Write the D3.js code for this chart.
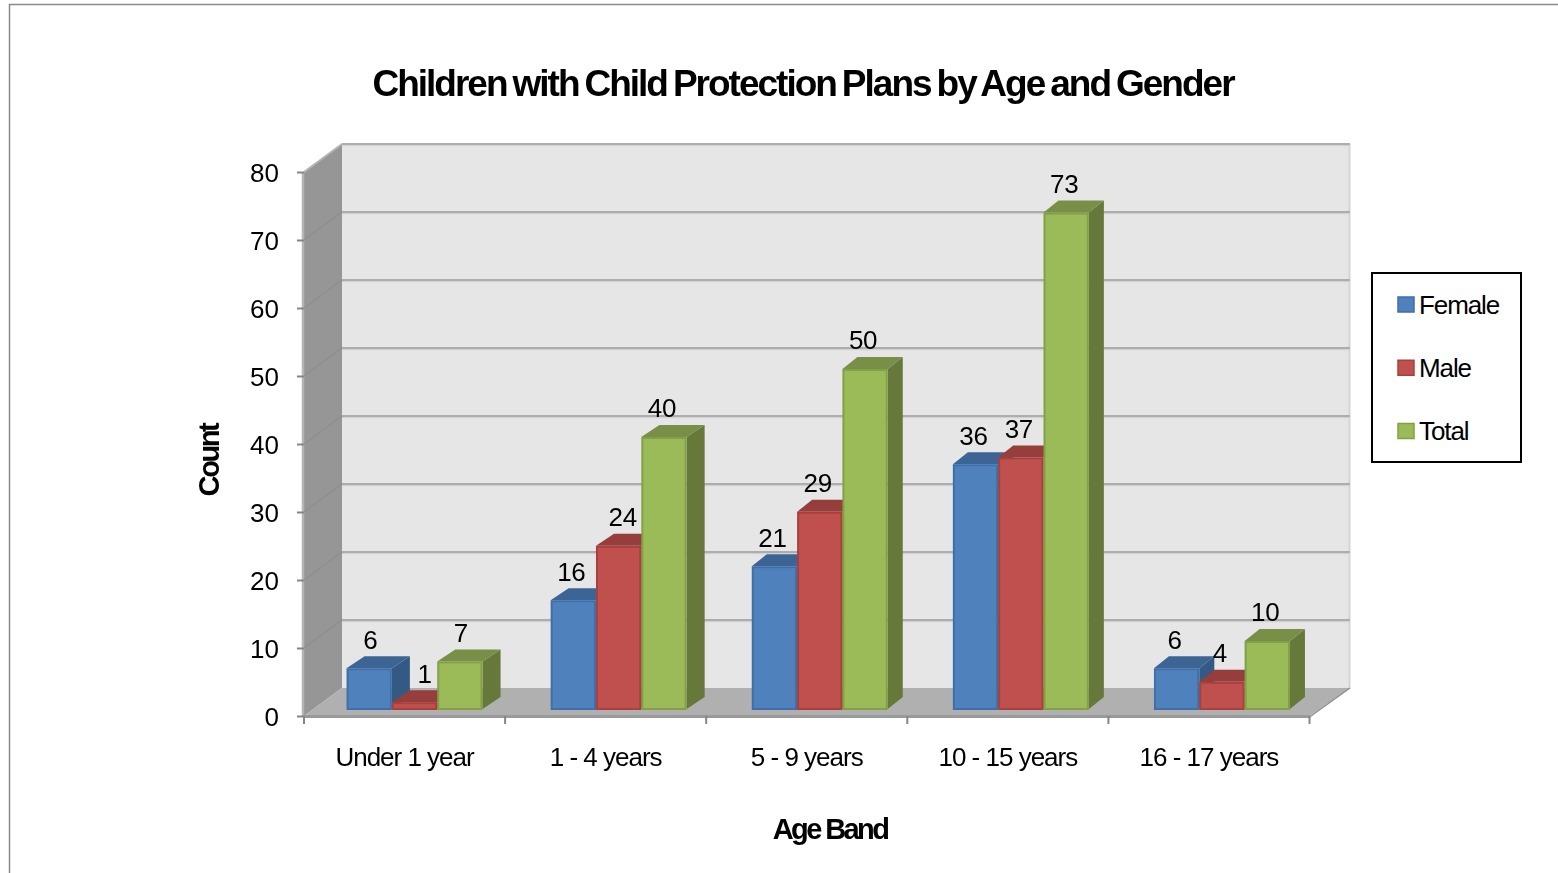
<!DOCTYPE html>
<html><head><meta charset="utf-8">
<script src="https://cdnjs.cloudflare.com/ajax/libs/d3/7.8.5/d3.min.js"></script>
<style>
html,body{margin:0;padding:0;background:#fff;overflow:hidden}
svg{display:block;filter:blur(0.35px)}
text{font-family:"Liberation Sans",Arial,sans-serif;fill:#000}
</style></head><body>
<script>
const categories = ["Under 1 year","1 - 4 years","5 - 9 years","10 - 15 years","16 - 17 years"];
const seriesNames = ["Female","Male","Total"];
const female = [6,16,21,36,6];
const male = [1,24,29,37,4];
const total = [7,40,50,73,10];
const yTicks = [0,10,20,30,40,50,60,70,80];
const titleText = "Children with Child Protection Plans by Age and Gender";
const xTitle = "Age Band";
const yTitle = "Count";

const seriesValues = [female,male,total];
const front = ["#4f81bd","#c0504d","#9bbb59"];
const edge  = ["#3f6fa8","#a8413e","#82a045"];
const topC  = ["#3c6595","#953e3b","#798f47"];
const side  = ["#335a85","#843634","#66783a"];

const W=1558,H=873;
const svg=d3.select("body").append("svg").attr("width",W).attr("height",H);
// frame
svg.append("path").attr("d",`M9.5 ${H}V4.5H${W}`).attr("fill","none").attr("stroke","#8a8a8a").attr("stroke-width",1.5);

const x0=304,x1=1309.5,wallDx=38,wallDy=28,barLift=7;
const y=d3.scaleLinear().domain([0,80]).range([716,172]);
const x=d3.scaleBand().domain(categories).range([x0,x1]);
const xBar=d3.scaleBand().domain(categories).range([x0+13,x1+13]);
const groupW=136;
const xSub=d3.scaleBand().domain(seriesNames).range([0,groupW]);
const depthX=[18,18,15,15,15],depthY=12,groupNudge=[-3,0,0,0,0];

const poly=(pts,fill,stroke)=>svg.append("polygon").attr("points",pts.map(p=>p.join(",")).join(" ")).attr("fill",fill).attr("stroke",stroke||"none");
const backR=1350;
// back wall, side wall, floor
poly([[x0+wallDx,y(80)-wallDy],[backR,y(80)-wallDy],[backR,y(0)-wallDy],[x0+wallDx,y(0)-wallDy]],"#e6e6e6");
poly([[x0,y(80)],[x0+wallDx,y(80)-wallDy],[x0+wallDx,y(0)-wallDy],[x0,y(0)]],"#969696");
poly([[x0,y(0)],[x0+wallDx,y(0)-wallDy],[backR,y(0)-wallDy],[x1,y(0)]],"#b0b0b0");
svg.append("line").attr("x1",x0-1).attr("x2",x0-1).attr("y1",y(80)).attr("y2",y(0)).attr("stroke","#b4b4b4").attr("stroke-width",2.5);
svg.append("line").attr("x1",backR-.5).attr("x2",backR-.5).attr("y1",y(80)-wallDy).attr("y2",y(0)-wallDy).attr("stroke","#d4d4d4").attr("stroke-width",2);
// gridlines
yTicks.forEach(t=>{
  if(t>0){
    svg.append("line").attr("x1",x0+wallDx).attr("x2",backR).attr("y1",y(t)-wallDy+1.5).attr("y2",y(t)-wallDy+1.5).attr("stroke","#d2d2d2").attr("stroke-width",1.5);
    svg.append("line").attr("x1",x0+wallDx).attr("x2",backR).attr("y1",y(t)-wallDy).attr("y2",y(t)-wallDy).attr("stroke","#adadad").attr("stroke-width",2);
  }
  if(t>0&&t<80) svg.append("line").attr("x1",x0).attr("x2",x0+wallDx).attr("y1",y(t)).attr("y2",y(t)-wallDy).attr("stroke","#8a8a8a").attr("stroke-width",1);
});
svg.append("line").attr("x1",x0).attr("x2",x0+wallDx).attr("y1",y(80)).attr("y2",y(80)-wallDy).attr("stroke","#b4b4b4").attr("stroke-width",2);
svg.append("line").attr("x1",x1).attr("x2",backR).attr("y1",y(0)+1).attr("y2",y(0)-wallDy).attr("stroke","#8e8e8e").attr("stroke-width",1.5);
svg.append("line").attr("x1",x0-1).attr("x2",x1+1).attr("y1",y(0)+.5).attr("y2",y(0)+.5).attr("stroke","#9a9a9a").attr("stroke-width",3);

// bars
const labelShift={"1|0":9,"1|1":6};
categories.forEach((c,ci)=>{
  seriesNames.forEach((s,si)=>{
    const v=seriesValues[si][ci];
    const l=xBar(c)+(xBar.bandwidth()-groupW)/2+xSub(s)+groupNudge[ci];
    const r=l+xSub.bandwidth();
    const t=y(v)-barLift,b=y(0)-barLift,dx=depthX[ci],dy=depthY;
    poly([[r,t],[r+dx,t-dy],[r+dx,b-dy],[r,b]],side[si]);
    poly([[l,t],[l+dx,t-dy],[r+dx,t-dy],[r,t]],topC[si]);
    svg.append("rect").attr("x",l+1).attr("y",t+1).attr("width",xSub.bandwidth()-2).attr("height",Math.max(b-t-2,0)+1)
      .attr("fill",front[si]).attr("stroke",edge[si]).attr("stroke-width",2);
  });
});
// value labels
categories.forEach((c,ci)=>{
  seriesNames.forEach((s,si)=>{
    const v=seriesValues[si][ci];
    const l=xBar(c)+(xBar.bandwidth()-groupW)/2+xSub(s);
    const shift=labelShift[si+"|"+ci]||0;
    svg.append("text").attr("x",l+xSub.bandwidth()/2-2+shift).attr("y",y(v)-barLift-29).attr("dy","0.36em")
      .attr("text-anchor","middle").attr("font-size",26).attr("letter-spacing",-0.3).text(v);
  });
});
// axes
const yAxis=d3.axisLeft(y).tickValues(yTicks).tickSize(7).tickPadding(18);
const gy=svg.append("g").attr("transform",`translate(${x0},0)`).call(yAxis);
gy.select(".domain").remove();
gy.selectAll("line").attr("stroke","#868686").attr("stroke-width",2);
gy.selectAll("text").attr("font-size",26).attr("font-family","Liberation Sans").attr("fill","#000").attr("dy","0.36em");

const xAxis=d3.axisBottom(x).tickSize(0).tickPadding(32);
const gx=svg.append("g").attr("transform",`translate(0,${y(0)})`).call(xAxis);
gx.select(".domain").remove();
gx.selectAll("text").attr("font-size",26).attr("font-family","Liberation Sans").attr("fill","#000").attr("letter-spacing",-1);
categories.concat([null]).forEach((c,i)=>{
  const px=c?x(c):x1;
  svg.append("line").attr("x1",px).attr("x2",px).attr("y1",y(0)).attr("y2",y(0)+8).attr("stroke","#868686").attr("stroke-width",2);
});

// titles
svg.append("text").attr("x",803).attr("y",83).attr("dy","0.36em").attr("text-anchor","middle").attr("font-size",37).attr("font-weight","bold").attr("letter-spacing",-2).attr("word-spacing",-2.3).text(titleText);
svg.append("text").attr("x",830).attr("y",829).attr("dy","0.36em").attr("text-anchor","middle").attr("font-size",29).attr("font-weight","bold").attr("letter-spacing",-2.6).text(xTitle);
svg.append("text").attr("transform","translate(209,460.5) rotate(-90)").attr("dy","0.36em").attr("text-anchor","middle").attr("font-size",29).attr("font-weight","bold").attr("letter-spacing",-2.4).text(yTitle);

// legend
svg.append("rect").attr("x",1372).attr("y",273).attr("width",149).attr("height",189).attr("fill","#fff").attr("stroke","#000").attr("stroke-width",2);
const legY=d3.scalePoint().domain(seriesNames).range([304.5,431]);
seriesNames.forEach((s,i)=>{
  svg.append("rect").attr("x",1398).attr("y",legY(s)-7.5).attr("width",16).attr("height",15).attr("fill",front[i]).attr("stroke",edge[i]).attr("stroke-width",1.5);
  svg.append("text").attr("x",1419).attr("y",legY(s)).attr("dy","0.36em").attr("font-size",26).attr("letter-spacing",-1.1).text(s);
});
</script></body></html>
